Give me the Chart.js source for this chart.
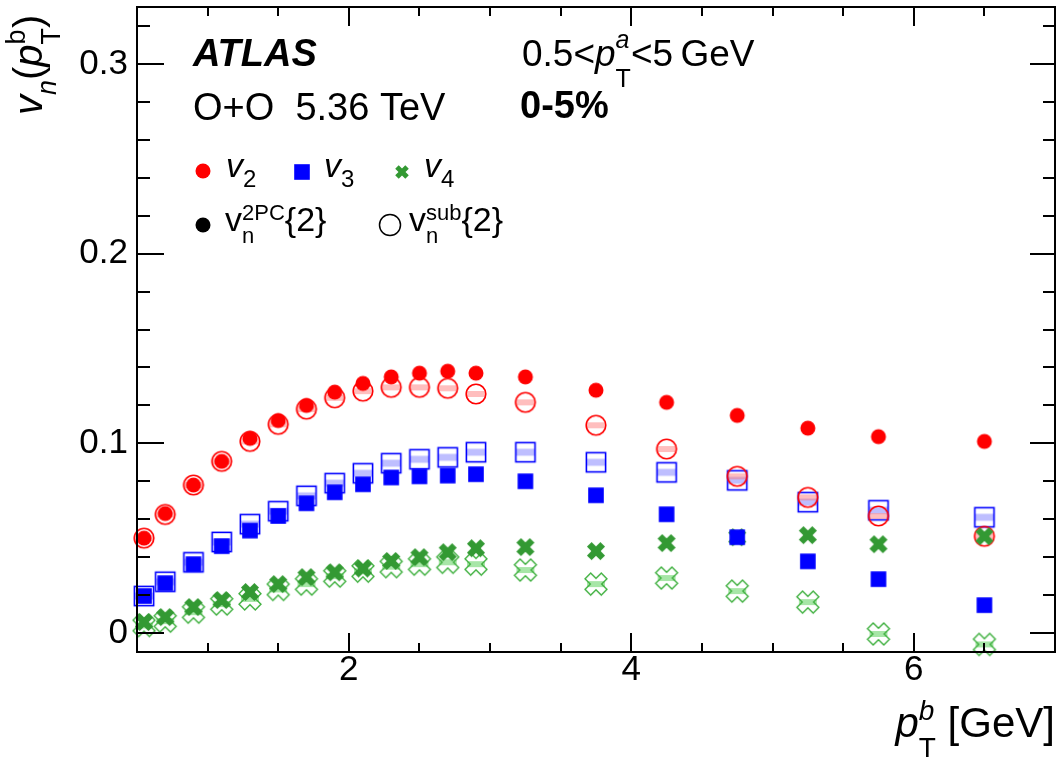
<!DOCTYPE html>
<html>
<head>
<meta charset="utf-8">
<script src="https://cdn.jsdelivr.net/npm/chart.js@4.4.0/dist/chart.umd.min.js"></script>
<style>
  html, body { margin: 0; padding: 0; background: #fff; }
</style>
</head>
<body>
<canvas id="chart" width="1060" height="757"></canvas>
<script>
// pT^b bin centres [GeV]
const pt = [0.55, 0.7, 0.9, 1.1, 1.3, 1.5, 1.7, 1.9, 2.1, 2.3, 2.5, 2.7, 2.9, 3.25, 3.75, 4.25, 4.75, 5.25, 5.75, 6.5];

// v_n^{2PC}{2}
const v2_2pc = [0.050, 0.063, 0.078, 0.0905, 0.1026, 0.112, 0.120, 0.127, 0.1316, 0.135, 0.137, 0.138, 0.137, 0.135, 0.128, 0.1216, 0.1147, 0.108, 0.1035, 0.101];
const v3_2pc = [0.0195, 0.0263, 0.0363, 0.0458, 0.054, 0.0617, 0.0684, 0.0742, 0.0784, 0.082, 0.0826, 0.083, 0.0837, 0.080, 0.0726, 0.0626, 0.0505, 0.0378, 0.0284, 0.0147];
const v4_2pc = [0.0058, 0.0084, 0.0137, 0.0174, 0.0216, 0.0258, 0.0295, 0.032, 0.034, 0.038, 0.040, 0.0426, 0.0447, 0.0453, 0.0432, 0.0474, 0.0505, 0.0516, 0.0468, 0.051];

// v_n^{sub}{2}
const v2_sub = [0.050, 0.0625, 0.078, 0.0905, 0.101, 0.110, 0.118, 0.124, 0.1275, 0.1295, 0.1295, 0.129, 0.126, 0.1216, 0.1095, 0.097, 0.0826, 0.0715, 0.0617, 0.051];
const v3_sub = [0.0195, 0.027, 0.0373, 0.048, 0.0574, 0.0642, 0.0723, 0.079, 0.0842, 0.0895, 0.0916, 0.0926, 0.0953, 0.0953, 0.090, 0.0847, 0.0805, 0.069, 0.0647, 0.061];
const v4_sub = [0.004, 0.0063, 0.011, 0.0153, 0.018, 0.023, 0.0258, 0.030, 0.0326, 0.035, 0.0363, 0.0373, 0.0363, 0.0332, 0.0258, 0.029, 0.0221, 0.0163, -0.0005, -0.006];

const xTicks = [2, 4, 6];
const yTicks = [0, 0.1, 0.2, 0.3];

const FONT = '"Liberation Sans", Arial, Helvetica, sans-serif';
const RED = '#ff0000', BLUE = '#0000ff', GREEN = '#339933', LGREEN = '#3fb03f';

// plot frame in canvas pixels
const FRAME = { left: 137, top: 7, right: 1055, bottom: 652 };

// marker bitmaps used as point styles
function marker(draw, size = 30) {
  const c = document.createElement('canvas');
  c.width = c.height = size;
  const g = c.getContext('2d');
  g.translate(size / 2, size / 2);
  draw(g);
  return c;
}

function xPath(g, L, a) {
  const pts = [[-a,-L],[a,-L],[a,-a],[L,-a],[L,a],[a,a],[a,L],[-a,L],[-a,a],[-L,a],[-L,-a],[-a,-a]];
  const c = Math.SQRT1_2;
  g.beginPath();
  pts.forEach(([px, py], i) => {
    const rx = (px - py) * c, ry = (px + py) * c;
    i ? g.lineTo(rx, ry) : g.moveTo(rx, ry);
  });
  g.closePath();
}

const dotRed = marker(g => { g.fillStyle = RED; g.beginPath(); g.arc(0, 0, 7.5, 0, 2 * Math.PI); g.fill(); });
const ringRed = marker(g => {
  g.fillStyle = 'rgba(255,110,110,0.45)'; g.fillRect(-9, -3, 18, 6);
  g.strokeStyle = RED; g.lineWidth = 1.6; g.beginPath(); g.arc(0, 0, 9.8, 0, 2 * Math.PI); g.stroke();
});
const sqBlue = marker(g => { g.fillStyle = BLUE; g.fillRect(-7.8, -7.8, 15.6, 15.6); });
const boxBlue = marker(g => {
  g.fillStyle = 'rgba(110,110,255,0.45)'; g.fillRect(-9, -3.5, 18, 7);
  g.strokeStyle = BLUE; g.lineWidth = 1.6; g.strokeRect(-9.6, -9.6, 19.2, 19.2);
});
const xGreen = marker(g => { g.fillStyle = GREEN; xPath(g, 9.5, 3.3); g.fill(); });
const xOpenGreen = marker(g => {
  g.fillStyle = 'rgba(60,200,60,0.45)'; g.fillRect(-9, -3, 18, 6);
  g.strokeStyle = LGREEN; g.lineWidth = 1.4; xPath(g, 11.5, 4); g.stroke();
});

const pts = ys => pt.map((x, i) => ({ x, y: ys[i] }));

function series(data, style) {
  return { data: pts(data), pointStyle: style, pointRadius: 10, clip: false, showLine: false };
}

// text with sub/superscripts: runs of plain text or stacked sup/sub
function runs(ctx, x, y, items, dry) {
  let cx = x;
  items.forEach(r => {
    if (r.sup !== undefined) {
      ctx.font = r.supFont; const w1 = ctx.measureText(r.sup).width;
      if (!dry) ctx.fillText(r.sup, cx, y + r.supDy);
      ctx.font = r.subFont; const w2 = ctx.measureText(r.sub).width;
      if (!dry) ctx.fillText(r.sub, cx, y + r.subDy);
      cx += Math.max(w1, w2);
    } else {
      ctx.font = r.font;
      if (!dry) ctx.fillText(r.t, cx, y + (r.dy || 0));
      cx += ctx.measureText(r.t).width;
    }
  });
  return cx - x;
}

// keep the plot frame where it is: no extra room for half tick labels
function noPadding(axis) {
  axis.paddingTop = axis.paddingBottom = axis.paddingLeft = axis.paddingRight = 0;
}

// pin the chart area and the scales to the frame after layout
const pinFrame = {
  id: 'pinFrame',
  afterLayout(chart) {
    const { x, y } = chart.scales;
    Object.assign(chart.chartArea, FRAME, {
      width: FRAME.right - FRAME.left, height: FRAME.bottom - FRAME.top
    });
    x.left = FRAME.left; x.right = FRAME.right; x.width = FRAME.right - FRAME.left;
    x.top = FRAME.bottom;
    y.top = FRAME.top; y.bottom = FRAME.bottom; y.height = FRAME.bottom - FRAME.top;
    y.right = FRAME.left;
    x.configure();
    y.configure();
  }
};

const annotations = {
  id: 'annotations',
  afterDatasetsDraw(chart) {
    const { ctx, chartArea: a, scales: { x, y } } = chart;
    ctx.save();

    // frame and inward ticks
    ctx.strokeStyle = '#000';
    ctx.lineWidth = 2;
    ctx.strokeRect(a.left, a.top, a.right - a.left, a.bottom - a.top);
    ctx.beginPath();
    for (let k = 2; k < 14; k++) {
      const px = Math.round(x.getPixelForValue(k / 2));
      const len = k % 4 === 0 ? 19 : 9;
      ctx.moveTo(px, a.bottom); ctx.lineTo(px, a.bottom - len);
      ctx.moveTo(px, a.top); ctx.lineTo(px, a.top + len);
    }
    for (let k = 0; k <= 16; k++) {
      const py = Math.round(y.getPixelForValue(k * 0.02));
      const major = k % 5 === 0;
      ctx.moveTo(a.left, py); ctx.lineTo(a.left + (major ? 27 : 13), py);
      ctx.moveTo(a.right, py); ctx.lineTo(a.right - (major ? 25 : 12), py);
    }
    ctx.stroke();

    ctx.fillStyle = '#000';
    ctx.textBaseline = 'alphabetic';
    ctx.textAlign = 'left';

    // header
    ctx.font = `italic bold 38px ${FONT}`;
    ctx.fillText('ATLAS', 193, 66);
    ctx.font = `38px ${FONT}`;
    ctx.fillText('O+O  5.36 TeV', 193, 120);
    runs(ctx, 522, 66, [
      { t: '0.5<', font: `37px ${FONT}` },
      { t: 'p', font: `italic 37px ${FONT}` },
      { sup: 'a', supFont: `italic 25px ${FONT}`, supDy: -18, sub: 'T', subFont: `25px ${FONT}`, subDy: 21 },
      { t: '<5\u2009GeV', font: `37px ${FONT}` }
    ]);
    ctx.font = `bold 38px ${FONT}`;
    ctx.fillText('0-5%', 520, 118);

    // legend symbols
    ctx.drawImage(dotRed, 203 - 15, 171 - 15);
    ctx.drawImage(sqBlue, 302 - 15, 172 - 15);
    ctx.save();
    ctx.translate(402, 172); ctx.scale(0.75, 0.75);
    ctx.fillStyle = GREEN; xPath(ctx, 9.5, 3.3); ctx.fill();
    ctx.restore();
    ctx.beginPath(); ctx.arc(203, 225, 7.5, 0, 2 * Math.PI); ctx.fill();
    ctx.lineWidth = 1.5; ctx.beginPath(); ctx.arc(390, 225, 10.5, 0, 2 * Math.PI); ctx.stroke();

    const vi = `italic 34px ${FONT}`, sm = `24px ${FONT}`;
    runs(ctx, 226, 177, [{ t: 'v', font: vi }, { t: '2', font: sm, dy: 10 }]);
    runs(ctx, 324, 177, [{ t: 'v', font: vi }, { t: '3', font: sm, dy: 10 }]);
    runs(ctx, 424, 177, [{ t: 'v', font: vi }, { t: '4', font: sm, dy: 10 }]);
    runs(ctx, 225, 231, [
      { t: 'v', font: `34px ${FONT}` },
      { sup: '2PC', supFont: `22px ${FONT}`, supDy: -11, sub: 'n', subFont: `22px ${FONT}`, subDy: 12 },
      { t: '{2}', font: `34px ${FONT}` }
    ]);
    runs(ctx, 409, 231, [
      { t: 'v', font: `34px ${FONT}` },
      { sup: 'sub', supFont: `22px ${FONT}`, supDy: -11, sub: 'n', subFont: `22px ${FONT}`, subDy: 12 },
      { t: '{2}', font: `34px ${FONT}` }
    ]);

    // x-axis title, right aligned to the frame
    const xt = [
      { t: 'p', font: `italic 42px ${FONT}` },
      { sup: 'b', supFont: `italic 28px ${FONT}`, supDy: -17, sub: 'T', subFont: `28px ${FONT}`, subDy: 20 },
      { t: ' [GeV]', font: `42px ${FONT}` }
    ];
    const w = runs(ctx, 0, 0, xt, true);
    runs(ctx, a.right - w, 737, xt);

    // y-axis title, rotated
    ctx.translate(42, 115);
    ctx.rotate(-Math.PI / 2);
    runs(ctx, 0, 0, [
      { t: 'v', font: `italic 40px ${FONT}` },
      { t: 'n', font: `italic 27px ${FONT}`, dy: 14 },
      { t: '(', font: `40px ${FONT}` },
      { t: 'p', font: `italic 40px ${FONT}` },
      { sup: 'b', supFont: `27px ${FONT}`, supDy: -17, sub: 'T', subFont: `27px ${FONT}`, subDy: 18 },
      { t: ')', font: `40px ${FONT}` }
    ]);
    ctx.restore();
  }
};

new Chart(document.getElementById('chart'), {
  type: 'scatter',
  data: {
    datasets: [
      series(v2_2pc, dotRed),
      series(v3_2pc, sqBlue),
      series(v4_2pc, xGreen),
      series(v2_sub, ringRed),
      series(v3_sub, boxBlue),
      series(v4_sub, xOpenGreen)
    ]
  },
  options: {
    responsive: false,
    devicePixelRatio: 1,
    animation: false,
    layout: { padding: { top: 7, right: 5, left: 0, bottom: 0 } },
    plugins: { legend: { display: false }, tooltip: { enabled: false } },
    scales: {
      x: {
        type: 'linear', min: 0.5, max: 7,
        grid: { display: false, drawTicks: false }, border: { display: false },
        afterBuildTicks: axis => { axis.ticks = xTicks.map(value => ({ value })); },
        afterFit: axis => { axis.height = 105; noPadding(axis); },
        ticks: { color: '#000', padding: -3, maxRotation: 0, font: { family: FONT, size: 35 }, callback: v => String(v) }
      },
      y: {
        type: 'linear', min: -0.01, max: 0.33,
        grid: { display: false, drawTicks: false }, border: { display: false },
        afterBuildTicks: axis => { axis.ticks = yTicks.map(value => ({ value })); },
        afterFit: axis => { axis.width = 137; noPadding(axis); },
        ticks: { color: '#000', padding: 9, font: { family: FONT, size: 35 }, callback: v => v === 0 ? '0' : v.toFixed(1) }
      }
    }
  },
  plugins: [pinFrame, annotations]
});
</script>
</body>
</html>
